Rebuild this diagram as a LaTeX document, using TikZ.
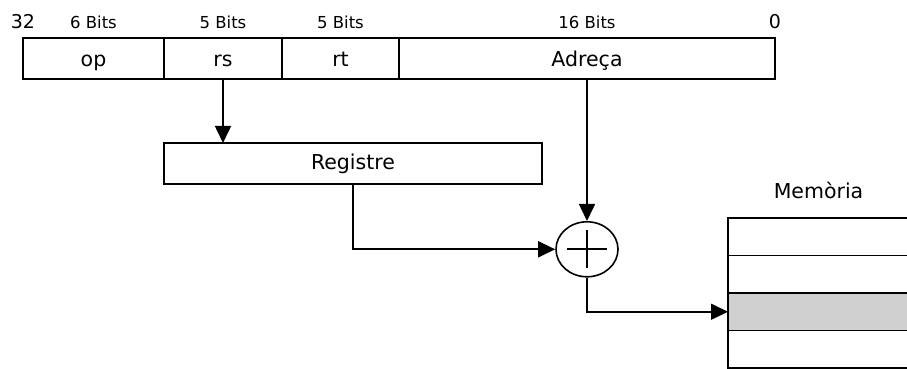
\documentclass[tikz,border=0pt]{standalone}
\usepackage{fontspec}
\setmainfont{DejaVu Sans}
\usetikzlibrary{shapes.geometric,arrows.meta,positioning}

\begin{document}
\begin{tikzpicture}[x=1pt, y=1pt, node distance=0pt, >=Triangle,
    field/.style={rectangle, draw=black, line width=1.6pt, fill=white, inner sep=0pt, outer sep=0pt, minimum height=41pt, text height=20pt, text depth=3pt, font=\fontsize{20.5}{24}\selectfont},
    bits/.style={inner sep=0pt, anchor=base, font=\fontsize{16.5}{20}\selectfont},
    edge/.style={inner sep=0pt, anchor=base, font=\fontsize{19}{22}\selectfont},
    cell/.style={rectangle, draw=black, line width=1.6pt, inner sep=0pt, outer sep=0pt, minimum width=181pt, minimum height=37.5pt},
    line/.style={draw=black, line width=1.6pt, -{Triangle[length=17pt, width=16pt]}}]

    \useasboundingbox (0,0) rectangle (907,369);
    \clip (0,0) rectangle (907,369);

    % instruction word
    \node [field, minimum width=141pt, anchor=north west] (op) at (23,331) {op};
    \node [field, minimum width=118pt, right=of op] (rs) {rs};
    \node [field, minimum width=117pt, right=of rs] (rt) {rt};
    \node [field, minimum width=376pt, right=of rt] (adreca) {Adreça};

    \node [edge, above=9pt of op.north west, anchor=base] (msb) {32};
    \node [edge, above=9pt of adreca.north east, anchor=base] (lsb) {0};
    \node [bits, above=9pt of op.north, anchor=base] (opbits) {6 Bits};
    \node [bits, above=9pt of rs.north, anchor=base] (rsbits) {5 Bits};
    \node [bits, above=9pt of rt.north, anchor=base] (rtbits) {5 Bits};
    \node [bits, above=9pt of adreca.north, anchor=base] (adbits) {16 Bits};

    \node [field, text height=16pt, minimum width=378pt, below=64pt of op.south east, anchor=north west] (registre) {Registre};
    \node [ellipse, draw=black, line width=1.6pt, minimum width=62pt, minimum height=55pt, inner sep=0pt, below=142pt of adreca] (suma) {};
    \draw [line width=1.6pt] ([xshift=-20pt]suma.center) -- ([xshift=20pt]suma.center);
    \draw [line width=1.6pt] ([yshift=19pt]suma.center) -- ([yshift=-19pt]suma.center);

    % memory
    \node [cell, anchor=north west] (mem1) at (728,151) {};
    \node [cell, below=of mem1] (mem2) {};
    \node [cell, fill=gray!37, below=of mem2] (mem3) {};
    \node [cell, below=of mem3] (mem4) {};
    \node [inner sep=0pt, anchor=base, font=\fontsize{20.5}{24}\selectfont, above=19pt of mem1.north, anchor=base] (memoria) {Memòria};

    \path [line] (rs.south) -- (rs.south |- registre.north);
    \path [line] (adreca.south) -- (suma.north);
    \path [line] (registre.south) |- (suma.west);
    \path [line] (suma.south) |- (mem3.west);
  \end{tikzpicture}
\end{document}
